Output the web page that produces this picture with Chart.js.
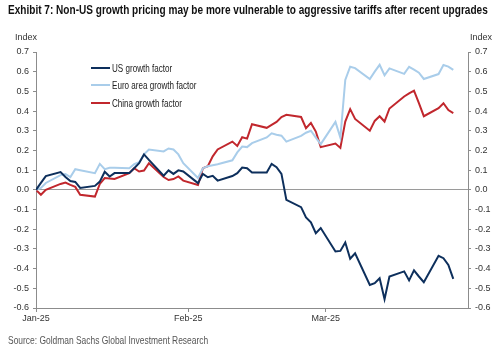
<!DOCTYPE html>
<html>
<head>
<meta charset="utf-8">
<script src="https://cdn.jsdelivr.net/npm/chart.js@4"></script>
<style>
  html, body { margin: 0; padding: 0; background: #fff; }
  #wrap { position: relative; width: 500px; height: 351px; overflow: hidden; }
  #myChart { position: absolute; left: 0; top: 0; }
  .txt { position: absolute; white-space: nowrap; color: #222; transform-origin: 0 50%; }
  #title { left: 8px; top: 2px; font: bold 13.5px "Liberation Sans", Arial, sans-serif; color: #111; }
  .idx { top: 32px; font: 9px "Liberation Sans", Arial, sans-serif; color: #333; }
  #source { left: 8px; top: 334px; font: 10.5px "Liberation Sans", Arial, sans-serif; color: #555; }
  #legend { position: absolute; left: 91px; top: 59px; font: 10.5px "Liberation Sans", Arial, sans-serif; color: #222; }
  #legend .row { height: 17.5px; display: flex; align-items: center; white-space: nowrap; }
  #legend .swatch { width: 19px; height: 2px; margin-right: 2px; flex: none; }
  #legend .name { display: inline-block; transform-origin: 0 50%; }
</style>
</head>
<body>
<div id="wrap">
  <canvas id="myChart" width="500" height="351"></canvas>
  <div class="txt" id="title">Exhibit 7: Non-US growth pricing may be more vulnerable to aggressive tariffs after recent upgrades</div>
  <div class="txt idx" style="left:15px">Index</div>
  <div class="txt idx" style="left:470px">Index</div>
  <div id="legend"></div>
  <div class="txt" id="source">Source: Goldman Sachs Global Investment Research</div>
</div>
<script>
(function () {
    "use strict";

    // trading days, 2025
    var dates = [
        '01-01', '01-02', '01-03', '01-06', '01-07', '01-08', '01-09', '01-10', '01-13', '01-14', '01-15', '01-16',
        '01-17', '01-20', '01-21', '01-22', '01-23', '01-24', '01-27', '01-28', '01-29', '01-30', '01-31',
        '02-03', '02-04', '02-05', '02-06', '02-07', '02-10', '02-11', '02-12', '02-13', '02-14',
        '02-17', '02-18', '02-19', '02-20', '02-21', '02-24', '02-25', '02-26', '02-27', '02-28',
        '03-03', '03-04', '03-05', '03-06', '03-07', '03-10', '03-11', '03-12', '03-13', '03-14',
        '03-17', '03-18', '03-19', '03-20', '03-21', '03-24', '03-25', '03-26', '03-27'
    ];

    var usGrowth = [
        0, 0.035, 0.07, 0.09, 0.065, 0.045, 0.04, 0.01, 0.02, 0.042, 0.092, 0.068,
        0.085, 0.085, 0.11, 0.135, 0.18, 0.152, 0.072, 0.099, 0.081, 0.099, 0.093,
        0.034, 0.081, 0.064, 0.071, 0.047, 0.07, 0.085, 0.113, 0.11, 0.088,
        0.088, 0.132, 0.115, 0.081, -0.051, -0.088, -0.14, -0.165, -0.22, -0.194,
        -0.313, -0.31, -0.267, -0.35, -0.322, -0.483, -0.474, -0.449, -0.555, -0.44,
        -0.414, -0.46, -0.409, -0.44, -0.469, -0.335, -0.347, -0.381, -0.452
    ];

    var euroGrowth = [
        0, 0.01, 0.035, 0.075, 0.08, 0.065, 0.105, 0.1, 0.085, 0.132, 0.105, 0.112,
        0.112, 0.11, 0.13, 0.14, 0.18, 0.205, 0.195, 0.21, 0.205, 0.18, 0.135,
        0.06, 0.11, 0.12, 0.125, 0.13, 0.15, 0.19, 0.22, 0.217, 0.237,
        0.266, 0.287, 0.28, 0.275, 0.245, 0.274, 0.29, 0.3, 0.265, 0.232,
        0.345, 0.265, 0.558, 0.625, 0.618, 0.563, 0.6, 0.635, 0.582, 0.617,
        0.589, 0.625, 0.61, 0.595, 0.563, 0.588, 0.634, 0.626, 0.609
    ];

    var chinaGrowth = [
        0, -0.025, 0, 0.03, 0.037, 0.025, 0.015, -0.025, -0.034, 0.03, 0.06, 0.058,
        0.055, 0.085, 0.11, 0.093, 0.098, 0.135, 0.065, 0.05, 0.055, 0.068, 0.047,
        0.025, 0.11, 0.12, 0.17, 0.205, 0.245, 0.223, 0.267, 0.26, 0.333,
        0.315, 0.33, 0.345, 0.37, 0.381, 0.37, 0.313, 0.34, 0.296, 0.217,
        0.235, 0.213, 0.347, 0.41, 0.36, 0.3, 0.35, 0.374, 0.347, 0.413,
        0.474, 0.49, 0.504, 0.44, 0.374, 0.415, 0.44, 0.405, 0.39
    ];

    var monthLabels = ['Jan-25', 'Feb-25', 'Mar-25'];
    var monthStarts = ['01-01', '02-01', '03-01'];
    var seriesNames = ['US growth factor', 'Euro area growth factor', 'China growth factor'];
    var seriesColors = ['#0d2f5c', '#a9cdea', '#c1272d'];

    // day offset from 1 Jan
    function dayOf(md) {
        var p = md.split('-');
        var d = new Date(Date.UTC(2025, Number(p[0]) - 1, Number(p[1])));
        return Math.round((d - Date.UTC(2025, 0, 1)) / 86400000);
    }

    var xs = dates.map(dayOf);
    var tickDays = monthStarts.map(dayOf);

    function toPoints(vals) {
        return vals.map(function (v, i) { return { x: xs[i], y: v }; });
    }

    var allSeries = [usGrowth, euroGrowth, chinaGrowth];
    var datasets = allSeries.map(function (vals, i) {
        return {
            label: seriesNames[i],
            data: toPoints(vals),
            borderColor: seriesColors[i],
            backgroundColor: seriesColors[i],
            borderWidth: 2,
            pointRadius: 0,
            tension: 0,
            fill: false
        };
    });

    var tickFont = { family: '"Liberation Sans", Arial, sans-serif', size: 9 };
    var axisGrey = '#8c8c8c';

    function yAxis(pos) {
        return {
            type: 'linear',
            position: pos,
            min: -0.6,
            max: 0.7,
            afterBuildTicks: function (axis) {
                var t = [];
                for (var k = -6; k <= 7; k++) t.push({ value: k / 10 });
                axis.ticks = t;
            },
            afterFit: function (axis) { axis.width = pos === 'left' ? 36 : 32; },
            border: { color: axisGrey, width: 1 },
            grid: {
                drawOnChartArea: pos === 'left',
                color: function (c) { return c.tick && Math.abs(c.tick.value) < 1e-9 ? '#9a9a9a' : 'rgba(0,0,0,0)'; },
                tickColor: axisGrey,
                tickLength: 3,
                lineWidth: 1
            },
            ticks: {
                font: tickFont,
                color: '#333',
                padding: 4,
                callback: function (v) { return Number(v).toFixed(1); }
            }
        };
    }

    var ctx = document.getElementById('myChart').getContext('2d');

    var myChart = new Chart(ctx, {
        type: 'line',
        data: { datasets: datasets },
        options: {
            responsive: false,
            animation: false,
            events: [],
            layout: { padding: { top: 52, left: 0, right: 0, bottom: 0 } },
            plugins: {
                legend: { display: false },
                tooltip: { enabled: false }
            },
            scales: {
                x: {
                    type: 'linear',
                    min: 0,
                    max: 88,
                    afterBuildTicks: function (axis) {
                        axis.ticks = tickDays.map(function (d) { return { value: d }; });
                    },
                    afterFit: function (axis) { axis.height = 43; },
                    border: { color: axisGrey, width: 1 },
                    grid: { drawOnChartArea: false, tickColor: axisGrey, tickLength: 4 },
                    ticks: {
                        font: tickFont,
                        color: '#333',
                        padding: 1,
                        maxRotation: 0,
                        callback: function (v) {
                            var i = tickDays.indexOf(v);
                            return i >= 0 ? monthLabels[i] : '';
                        }
                    }
                },
                y: yAxis('left'),
                y2: yAxis('right')
            }
        }
    });

    // squeeze text to the narrow face of the original
    function fitWidth(el, target) {
        el.style.transform = 'scaleX(' + (target / el.offsetWidth) + ')';
    }

    fitWidth(document.getElementById('title'), 480);
    fitWidth(document.getElementById('source'), 200);

    // legend inside plot area
    var legend = document.getElementById('legend');
    var names = [];
    seriesNames.forEach(function (name, i) {
        var row = document.createElement('div');
        row.className = 'row';
        row.innerHTML = '<span class="swatch" style="background:' + seriesColors[i] + '"></span><span class="name">' + name + '</span>';
        legend.appendChild(row);
        names.push(row.querySelector('.name'));
    });
    var k = 60 / names[0].offsetWidth;
    names.forEach(function (n) { n.style.transform = 'scaleX(' + k + ')'; });
})();
</script>
</body>
</html>
